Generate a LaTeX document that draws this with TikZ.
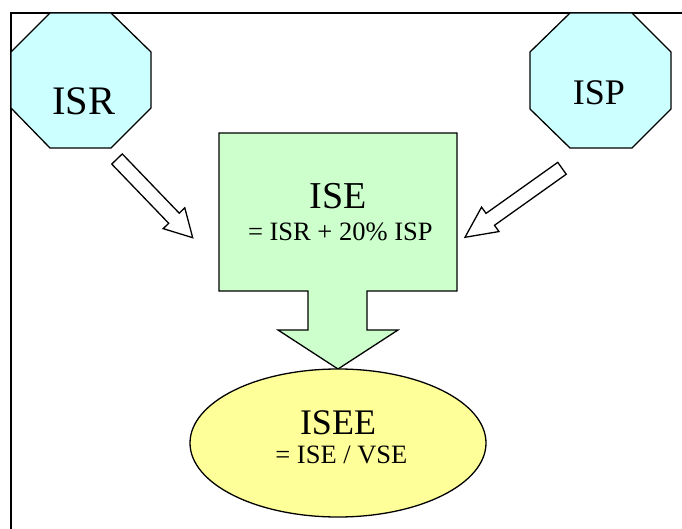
\documentclass[tikz,border=0pt]{standalone}
\usepackage{fontspec}
\setmainfont{Liberation Serif}
\usetikzlibrary{calc,shapes.geometric}
\definecolor{octfill}{HTML}{CCFFFF}
\definecolor{boxfill}{HTML}{CCFFCC}
\definecolor{ellfill}{HTML}{FFFF99}
\tikzset{
  outline/.style={draw=black, line width=1.3pt, line join=miter},
  bigtxt/.style={inner sep=0pt, anchor=base, text depth=0pt, font=\fontsize{36}{40}\selectfont},
  smalltxt/.style={inner sep=0pt, anchor=base, text height=18pt, text depth=0pt, font=\fontsize{26.5}{30}\selectfont},
  hollow/.style={draw=black, line width=1.3pt, fill=white, line join=miter},
}
\newcommand{\hollowarrow}[3]{%
  \path ($(#2)!#3!(#1)$) coordinate (hb);
  \draw[hollow] ($(#1)!7.3pt!90:(#2)$) -- ($(hb)!7.3pt!90:(#2)$) -- ($(hb)!15pt!90:(#2)$) -- (#2)
    -- ($(hb)!15pt!-90:(#2)$) -- ($(hb)!7.3pt!-90:(#2)$) -- ($(#1)!7.3pt!-90:(#2)$) -- cycle;}
\begin{document}
\begin{tikzpicture}[x=1pt,y=-1pt]
\useasboundingbox (0,0) rectangle (682,529);
% frame
\draw[line width=1.5pt] (11,529) -- (11,13) -- (682,13);
% ISR octagon
\draw[outline, fill=octfill] (50,13) -- (111,13) -- (151,52) -- (151,108) -- (111,148) -- (50,148) -- (11,108) -- (11,52) -- cycle;
\node[bigtxt, font=\fontsize{40.5}{44}\selectfont] (isr) at (84,115) {ISR};
% ISP octagon
\draw[outline, fill=octfill] (570,13) -- (632,13) -- (671,52) -- (671,109) -- (632,148) -- (570,148) -- (530,109) -- (530,52) -- cycle;
\node[bigtxt] (isp) at (599,105) {ISP};
% ISE box with downward arrow
\draw[outline, fill=boxfill] (219,133) -- (457,133) -- (457,291) -- (367,291) -- (367,330) -- (398,330) -- (338,369) -- (278,330) -- (308,330) -- (308,291) -- (219,291) -- cycle;
\node[bigtxt, font=\fontsize{38}{42}\selectfont] (ise) at (338,209) {ISE};
\node[smalltxt] (iseformula) at (340.3,240.7) {= ISR + 20\% ISP};
% ISEE ellipse
\node[ellipse, outline, fill=ellfill, minimum width=296pt, minimum height=148pt, inner sep=0pt] (isee) at (338,443) {};
\node[bigtxt] (iseetxt) at (338,434) {ISEE};
\node[smalltxt] (iseeformula) at (341.4,463) {= ISE / VSE};
% hollow arrows
\coordinate (ltail) at (117,159);
\coordinate (ltip) at (192.7,237.7);
\coordinate (rtail) at (562,168.3);
\coordinate (rtip) at (465,237.3);
\hollowarrow{ltail}{ltip}{27pt}
\hollowarrow{rtail}{rtip}{31pt}
\end{tikzpicture}
\end{document}
